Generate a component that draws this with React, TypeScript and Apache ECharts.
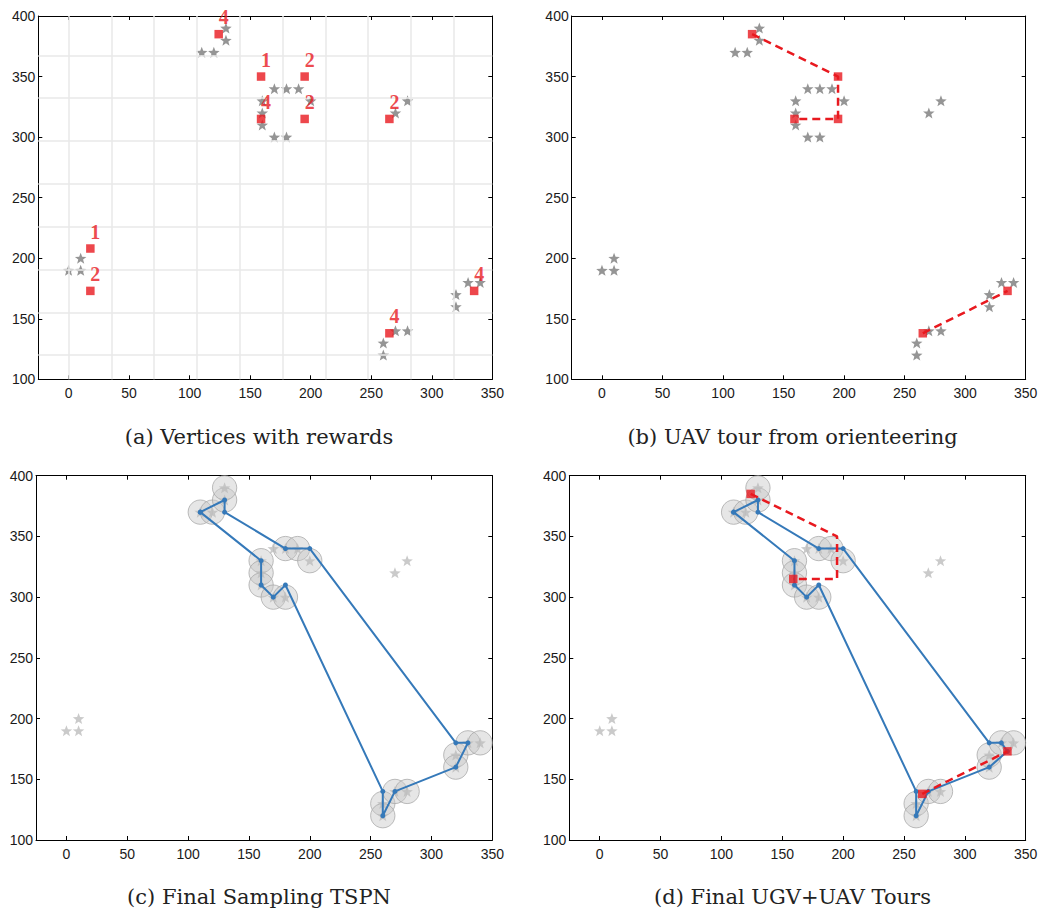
import React, { useEffect, useRef } from "react";
import * as echarts from "echarts";

// ---------- data ----------
const xTicks = [0, 50, 100, 150, 200, 250, 300, 350];
const yTicks = [100, 150, 200, 250, 300, 350, 400];
const gridLineXs = [0, 35.36, 70.71, 106.07, 141.42, 176.78, 212.13, 247.49, 282.84, 318.2];
const gridLineYs = [120, 155.36, 190.71, 226.07, 261.42, 296.78, 332.13, 367.49];

const stars: [number, number][] = [
  [110, 370], [120, 370], [130, 380], [130, 390],
  [160, 330], [160, 320], [160, 310], [170, 340], [180, 340], [190, 340], [200, 330], [170, 300], [180, 300],
  [270, 320], [280, 330],
  [0, 190], [10, 190], [10, 200],
  [260, 130], [260, 120], [270, 140], [280, 140],
  [320, 170], [320, 160], [330, 180], [340, 180],
];

const rewardPoints: [number, number][] = [
  [124, 385], [159, 350], [195, 350], [159, 315], [195, 315], [265, 315],
  [18, 208], [18, 173], [265, 138], [335, 173],
];
const rewardValues = [4, 1, 2, 4, 2, 2, 1, 2, 4, 4];

const uavTourA: [number, number][] = [[124, 385], [195, 350], [195, 315], [159, 315]];
const uavTourB: [number, number][] = [[265, 138], [335, 173]];
const uavStopsB: [number, number][] = [[124, 385], [195, 350], [195, 315], [159, 315], [265, 138], [335, 173]];
const uavStopsD: [number, number][] = [[124, 385], [159, 315], [265, 138], [335, 173]];

const diskCenters: [number, number][] = [
  [110, 370], [120, 370], [130, 380], [130, 390],
  [180, 340], [190, 340], [200, 330],
  [160, 330], [160, 320], [160, 310], [170, 300], [180, 300],
  [260, 130], [260, 120], [270, 140], [280, 140],
  [320, 170], [320, 160], [330, 180], [340, 180],
];
const diskRadius = 10;

const tspnTour: [number, number][] = [
  [110, 370], [130, 380], [130, 370], [180, 340], [200, 340], [320, 180], [330, 180],
  [320, 160], [270, 140], [260, 120], [260, 140], [180, 310], [170, 300], [160, 310],
  [160, 330], [110, 370],
];
const finalTour: [number, number][] = [
  [110, 370], [130, 380], [130, 370], [180, 340], [200, 340], [320, 180], [330, 180],
  [335, 173], [320, 160], [270, 140], [260, 120], [260, 140], [180, 310], [170, 300],
  [160, 310], [160, 330], [110, 370],
];

const captions = [
  "(a) Vertices with rewards",
  "(b) UAV tour from orienteering",
  "(c) Final Sampling TSPN",
  "(d) Final UGV+UAV Tours",
];

// ---------- styles ----------
const STAR =
  "path://M0,-1L0.2469,-0.34L0.9511,-0.309L0.3995,0.13L0.5878,0.809L0,0.42L-0.5878,0.809L-0.3995,0.13L-0.9511,-0.309L-0.2469,-0.34Z";
const RED = "#e8191f";
const BLUE = "#3579b9";
const DARK_STAR = "#7a7a7a";
const LIGHT_STAR = "#bdbdbd";

const grids = [
  { left: 38.3, top: 16, width: 454, height: 363.3 },
  { left: 571.7, top: 16, width: 454, height: 363.3 },
  { left: 36, top: 475.7, width: 456.3, height: 364.3 },
  { left: 569.3, top: 475.7, width: 456.4, height: 364.3 },
];
const captionPos = [
  [259, 437],
  [792.5, 437],
  [259, 897],
  [792.5, 897],
];

function buildOption() {
  const xAxis: any[] = [];
  const yAxis: any[] = [];
  const lineCommon = { show: true, onZero: false, lineStyle: { color: "#000", width: 1 } };
  const labelCommon = { color: "#1a1a1a", fontSize: 14, fontFamily: "Liberation Sans" };
  grids.forEach((_, i) => {
    xAxis.push({
      type: "value", gridIndex: i, min: -25, max: 350, position: "bottom",
      axisLine: lineCommon,
      axisTick: { show: true, inside: true, length: 4, customValues: xTicks, lineStyle: { color: "#000" } },
      axisLabel: { ...labelCommon, margin: 7, customValues: xTicks },
      splitLine: { show: false },
    });
    xAxis.push({
      type: "value", gridIndex: i, min: -25, max: 350, position: "top",
      axisLine: lineCommon,
      axisTick: { show: true, inside: true, length: 4, customValues: xTicks, lineStyle: { color: "#000" } },
      axisLabel: { show: false },
      splitLine: { show: false },
    });
    yAxis.push({
      type: "value", gridIndex: i, min: 100, max: 400, position: "left",
      axisLine: lineCommon,
      axisTick: { show: true, inside: true, length: 4, customValues: yTicks, lineStyle: { color: "#000" } },
      axisLabel: { ...labelCommon, margin: 3, customValues: yTicks },
      splitLine: { show: false },
    });
    yAxis.push({
      type: "value", gridIndex: i, min: 100, max: 400, position: "right",
      axisLine: lineCommon,
      axisTick: { show: true, inside: true, length: 4, customValues: yTicks, lineStyle: { color: "#000" } },
      axisLabel: { show: false },
      splitLine: { show: false },
    });
  });

  const ax = (i: number) => ({ xAxisIndex: 2 * i, yAxisIndex: 2 * i });

  const starSeries = (i: number, color: string) => ({
    type: "scatter", ...ax(i), z: 3, silent: true,
    symbol: STAR, symbolSize: [11.5, 11],
    itemStyle: { color },
    data: stars,
  });

  const squareSeries = (i: number, pts: [number, number][], withLabels: boolean) => ({
    type: "scatter", ...ax(i), z: 6, silent: true,
    symbol: "rect", symbolSize: 8.5,
    itemStyle: { color: RED },
    label: withLabels
      ? {
          show: true, position: "inside", offset: [5, -17],
          formatter: (p: any) => String(rewardValues[p.dataIndex]),
          color: RED, fontFamily: "Liberation Serif", fontWeight: "bold", fontSize: 20,
        }
      : { show: false },
    data: pts,
  });

  const dashedSeries = (i: number, pts: [number, number][]) => ({
    type: "line", ...ax(i), z: 5, silent: true, symbol: "none",
    lineStyle: { color: RED, width: 2.5, type: [8, 5] },
    data: pts,
  });

  const diskSeries = (i: number) => ({
    type: "custom", ...ax(i), z: 2, silent: true,
    renderItem: (params: any, api: any) => {
      const c = api.coord([api.value(0), api.value(1)]);
      const s = api.size([diskRadius, diskRadius]);
      return {
        type: "circle",
        shape: { cx: c[0], cy: c[1], r: s[0] },
        style: { fill: "rgba(200,200,200,0.45)", stroke: "rgba(165,165,165,0.75)", lineWidth: 1 },
      };
    },
    data: diskCenters,
  });

  const tourSeries = (i: number, pts: [number, number][]) => ({
    type: "line", ...ax(i), z: 4, silent: true,
    symbol: "circle", symbolSize: 5, showSymbol: true,
    lineStyle: { color: BLUE, width: 2 },
    itemStyle: { color: BLUE },
    data: pts,
  });

  const series: any[] = [
    // (a)
    {
      type: "scatter", ...ax(0), z: 1, silent: true, symbolSize: 0,
      data: [[gridLineXs[0], gridLineYs[0]]],
      markLine: {
        silent: true, symbol: "none", label: { show: false },
        lineStyle: { color: "#e8e8e8", width: 1.5, type: "solid" },
        data: [
          ...gridLineXs.map((x) => ({ xAxis: x })),
          ...gridLineYs.map((y) => ({ yAxis: y })),
        ],
      },
    },
    starSeries(0, DARK_STAR),
    squareSeries(0, rewardPoints, true),
    // (b)
    starSeries(1, DARK_STAR),
    dashedSeries(1, uavTourA),
    dashedSeries(1, uavTourB),
    squareSeries(1, uavStopsB, false),
    // (c)
    diskSeries(2),
    starSeries(2, LIGHT_STAR),
    tourSeries(2, tspnTour),
    // (d)
    diskSeries(3),
    starSeries(3, LIGHT_STAR),
    tourSeries(3, finalTour),
    dashedSeries(3, uavTourA),
    dashedSeries(3, uavTourB),
    squareSeries(3, uavStopsD, false),
  ];

  const graphic = captions.map((t, i) => ({
    type: "text",
    x: captionPos[i][0],
    y: captionPos[i][1],
    style: {
      text: t, fill: "#222", fontFamily: "DejaVu Serif", fontSize: 21,
      textAlign: "center", textVerticalAlign: "middle",
    },
  }));

  return {
    animation: false,
    backgroundColor: "#fff",
    grid: grids.map((g) => ({ ...g, containLabel: false })),
    xAxis,
    yAxis,
    series,
    graphic,
  };
}

export default function App() {
  const ref = useRef<HTMLDivElement>(null);
  useEffect(() => {
    document.body.style.margin = "0";
    if (!ref.current) return;
    const chart = echarts.init(ref.current, undefined, { renderer: "svg" });
    chart.setOption(buildOption() as any);
    return () => chart.dispose();
  }, []);
  return <div ref={ref} style={{ width: 1042, height: 914 }} />;
}
